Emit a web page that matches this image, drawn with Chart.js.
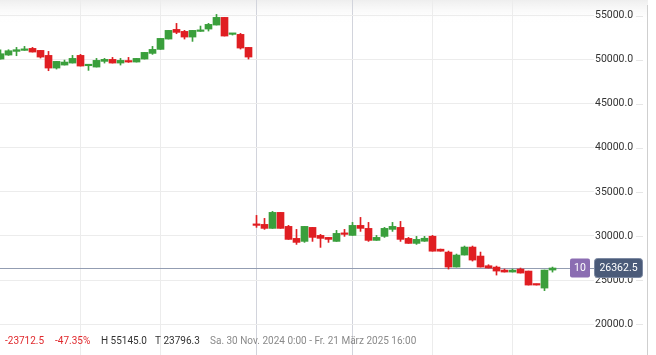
<!DOCTYPE html>
<html>
<head>
<meta charset="utf-8">
<script src="https://cdn.jsdelivr.net/npm/chart.js@4.4.1/dist/chart.umd.min.js"></script>
<style>
  html, body { margin: 0; padding: 0; background: #fff; }
  #wrap { width: 656px; height: 355px; position: relative; }
</style>
</head>
<body>
<div id="wrap"><canvas id="myChart"></canvas></div>
<script>
// Kerzen-Daten (Open / High / Low / Close)
const opens = [
  50075, 50532, 50948, 51062, 51289, 51062, 50494, 49057, 49397, 49624,
  50494, 49322, 49170, 49814, 50041, 49624, 49814, 49738, 50078, 50721,
  51175, 52348, 53445, 53218, 52575, 53218, 53483, 53937, 54807, 52878,
  52878, 51402, 31314, 31314, 30860, 32676, 31087, 29725, 29384, 30973,
  30065, 29838, 29384, 30292, 30065, 31200, 30860, 29498, 29952, 30746,
  30973, 29725, 29157, 29400, 29970, 28500, 28173, 26471, 27833, 28741,
  27720, 26622, 26471, 26131, 25904, 26244, 26017, 24541, 24088, 26131
];
const highs = [
  51138, 51138, 51402, 51516, 51402, 51062, 50948, 49814, 49965, 50494,
  50608, 49473, 50154, 50154, 50267, 50154, 50267, 50154, 50835, 51516,
  52424, 53332, 54126, 53332, 53332, 53823, 54126, 55145, 54807, 52991,
  52991, 51402, 32335, 31995, 32789, 32676, 31200, 30746, 31087, 30973,
  30179, 29838, 30633, 30746, 31541, 32108, 31541, 30065, 30973, 31541,
  31654, 29838, 29952, 29952, 30065, 28514, 28287, 27947, 28855, 28855,
  28173, 26736, 26584, 26244, 26244, 26358, 26017, 24541, 26131, 26471
];
const lows = [
  50075, 50494, 50457, 51062, 50873, 50192, 48754, 48943, 49397, 49624,
  49284, 48792, 49170, 49624, 49624, 49397, 49700, 49738, 50078, 50608,
  51175, 52348, 52953, 52348, 52083, 53218, 53256, 53937, 52689, 52802,
  51213, 50078, 30973, 30746, 30860, 30860, 29611, 29044, 29271, 29384,
  28703, 29271, 29384, 29952, 30065, 30519, 29384, 29498, 29838, 30519,
  29384, 29157, 29044, 29384, 28270, 28270, 26244, 26471, 27833, 27152,
  26471, 26358, 25563, 25904, 25904, 25790, 24428, 24428, 23796.3, 25900
];
const closes = [
  50684, 51024, 51138, 51175, 50873, 50305, 49057, 49814, 49738, 50154,
  49284, 49473, 49927, 50041, 49624, 49927, 49738, 50154, 50835, 51175,
  52424, 53332, 53105, 52575, 53332, 53332, 54013, 54807, 52689, 52991,
  51327, 50305, 31200, 30860, 32676, 30860, 29611, 29271, 31087, 29838,
  29725, 29611, 30292, 30179, 31200, 30860, 29498, 29838, 30860, 31087,
  29611, 29157, 29611, 29740, 28270, 28270, 26471, 27833, 28741, 27266,
  26471, 26358, 26017, 25904, 26131, 25790, 24428, 24428, 26131, 26362.5
];

const yTicks = [20000, 25000, 30000, 35000, 40000, 45000, 50000, 55000];
const xGridAt = [10, 20, 32, 44, 54, 64];
const xGridStrong = [32, 44];
const lastPrice = closes[closes.length - 1];
const badgeCount = '10';
const rangeText = 'Sa. 30 Nov. 2024 0:00 - Fr. 21 März 2025 16:00';

const up = '#3a9f3c';
const down = '#e01e22';
const font = 'Roboto, "Liberation Sans", Arial, sans-serif';

let candleColors = opens.map((o, i) => closes[i] >= o ? up : down);
let wickData = opens.map((o, i) => ({ x: i, y: [lows[i], highs[i]] }));
let bodyData = opens.map((o, i) => ({ x: i, y: [o, closes[i]] }));

// Deko: Kopfschatten, Preislinie, Badges, Statuszeile
const decor = {
  id: 'decor',
  beforeDraw(chart) {
    const c = chart.ctx;
    const g = c.createLinearGradient(0, 0, 0, 24);
    g.addColorStop(0, '#eeeeee');
    g.addColorStop(1, 'rgba(255,255,255,0)');
    c.save();
    c.fillStyle = g;
    c.fillRect(0, 0, 648, 24);
    c.restore();
  },
  beforeDatasetsDraw(chart) {
    const c = chart.ctx;
    const py = Math.round(chart.scales.y.getPixelForValue(lastPrice)) + 0.5;
    c.save();
    c.strokeStyle = '#939db2';
    c.lineWidth = 1;
    c.beginPath();
    c.moveTo(0, py);
    c.lineTo(596, py);
    c.stroke();
    c.restore();
  },
  afterDraw(chart) {
    const c = chart.ctx;
    const ys = chart.scales.y;
    c.save();
    // kleine Striche rechts neben den Achsenbeschriftungen
    c.strokeStyle = '#e6e6e6';
    c.lineWidth = 1;
    yTicks.forEach(v => {
      const y = Math.round(ys.getPixelForValue(v)) + 0.5;
      c.beginPath(); c.moveTo(636, y); c.lineTo(643, y); c.stroke();
    });
    // rechter Rand
    c.strokeStyle = '#cfcfcf';
    c.beginPath(); c.moveTo(647.5, 5); c.lineTo(647.5, 355); c.stroke();

    const py = ys.getPixelForValue(lastPrice);
    c.fillStyle = '#8b6db2';
    c.beginPath(); c.roundRect(570, py - 9.5, 20, 19, 2); c.fill();
    c.fillStyle = '#4b5b79';
    c.strokeStyle = '#7d8aa3';
    c.beginPath(); c.roundRect(594.5, py - 9.5, 48, 19, 3); c.fill(); c.stroke();
    c.fillStyle = '#fff';
    c.font = '10.5px ' + font;
    c.textBaseline = 'middle';
    c.textAlign = 'center';
    c.fillText(badgeCount, 580, py + 0.5);
    c.fillText(lastPrice.toFixed(1), 618.5, py + 0.5);

    // Statuszeile unten
    const diff = lastPrice - opens[0];
    const pct = diff / opens[0] * 100;
    const hi = Math.max(...highs);
    const lo = Math.min(...lows);
    c.textAlign = 'left';
    c.font = '10px ' + font;
    const parts = [
      [diff.toFixed(1), 5, '#e0282c'],
      [pct.toFixed(2) + '%', 55, '#e0282c'],
      ['H ' + hi.toFixed(1), 101, '#333333'],
      ['T ' + lo.toFixed(1), 155, '#333333'],
      [rangeText, 210, '#8a8a8a']
    ];
    parts.forEach(p => { c.fillStyle = p[2]; c.fillText(p[0], p[1], 341.5); });
    c.restore();
  }
};

let chart = new Chart(document.getElementById('myChart'), {
  type: 'bar',
  data: {
    datasets: [
      {
        data: bodyData,
        backgroundColor: candleColors,
        barThickness: 7,
        grouped: false,
        minBarLength: 1.5,
        borderWidth: 0,
        order: 1
      },
      {
        data: wickData,
        backgroundColor: candleColors,
        barThickness: 1,
        grouped: false,
        borderWidth: 0,
        order: 2
      }
    ]
  },
  options: {
    responsive: true,
    maintainAspectRatio: false,
    animation: false,
    layout: { padding: 0, autoPadding: false },
    plugins: { legend: { display: false }, tooltip: { enabled: false } },
    scales: {
      x: {
        type: 'linear',
        offset: false,
        min: -0.0625,
        max: 74.1875,
        afterBuildTicks: s => { s.ticks = xGridAt.map(v => ({ value: v })); },
        afterFit: s => { s.height = 0; s.paddingLeft = 0; s.paddingRight = 0; },
        ticks: { display: false },
        grid: {
          offset: false,
          drawTicks: false,
          color: ctx => xGridStrong.includes(ctx.tick && ctx.tick.value) ? '#d2d4dc' : '#ececec'
        },
        border: { display: false }
      },
      y: {
        position: 'right',
        beginAtZero: false,
        min: 16490,
        max: 56780,
        afterBuildTicks: s => { s.ticks = yTicks.map(v => ({ value: v })); },
        afterFit: s => { s.width = 62; s.paddingTop = 0; s.paddingBottom = 0; },
        ticks: {
          padding: 1,
          color: '#333333',
          font: { family: font, size: 10.5 },
          callback: v => v.toFixed(1)
        },
        grid: { drawTicks: false, color: '#ececec' },
        border: { display: false }
      }
    }
  },
  plugins: [decor]
});
</script>
</body>
</html>
